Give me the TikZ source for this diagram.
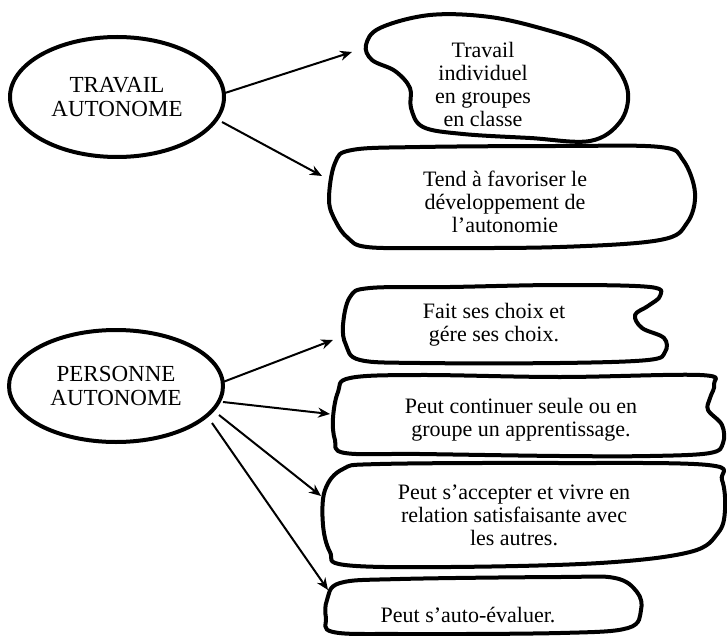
\documentclass[tikz,border=0pt]{standalone}
\usepackage{fontspec}
\setmainfont{Liberation Serif}
\usetikzlibrary{arrows.meta}

\tikzset{
  blob/.style={line width=2pt, line join=round},
  link/.style={->, >={Stealth[length=6pt,width=5pt]}, line width=1pt},
  txt/.style={align=center, font=\fontsize{11}{11.5}\selectfont, inner sep=0pt}
}

\begin{document}
\begin{tikzpicture}[x=0.5pt,y=-0.5pt]
\useasboundingbox (0,0) rectangle (727,636);

\node[txt, font=\fontsize{11.5}{12}\selectfont] (ta) at (117,97) {TRAVAIL\\AUTONOME};
\node[txt, font=\fontsize{11.5}{12}\selectfont] (pa) at (116,386) {PERSONNE\\AUTONOME};

\draw[blob] (ta) ellipse (107 and 60);
\draw[blob] (pa) ellipse (107 and 56);

\node[txt] (t1) at (483,84) {Travail\\individuel\\en groupes\\en classe};
\node[txt] (t2) at (505,202) {Tend à favoriser le\\développement de\\l'autonomie};
\node[txt] (p1) at (494,325) {Fait ses choix et\\gére ses choix.};
\node[txt] (p2) at (521,420) {Peut continuer seule ou en\\groupe un apprentissage.};
\node[txt] (p3) at (514,515) {Peut s'accepter et vivre en\\relation satisfaisante avec\\les autres.};
\node[txt] (p4) at (468,615) {Peut s'auto-évaluer.};

\draw[blob] plot[smooth cycle, tension=0.6] coordinates {(366,45) (380,28) (430,15) (490,17) (547,30) (590,45) (615,65) (628,93) (620,122) (590,141) (530,138) (463,134) (423,127) (411,108) (410,88) (395,71) (372,60)};
\draw[blob] plot[smooth cycle, tension=0.6] coordinates {(335,163) (352,150) (420,147) (560,146) (660,147) (683,160) (695,193) (687,223) (660,240) (560,247) (433,248) (367,247) (348,238) (336,222) (329,200)};
\draw[blob] plot[smooth cycle, tension=0.6] coordinates {(343,325) (350,297) (370,288) (450,287) (560,285) (650,287) (660,296) (648,306) (635,315) (642,328) (664,338) (665,352) (648,360) (560,363) (420,363) (360,360) (346,345)};
\draw[blob] plot[smooth cycle, tension=0.6] coordinates {(338,392) (350,378) (420,375) (560,377) (700,375) (714,384) (710,398) (708,410) (722,425) (723,443) (710,453) (650,456) (560,456) (420,454) (345,453) (335,440) (333,418)};
\draw[blob] plot[smooth cycle, tension=0.6] coordinates {(325,490) (343,469) (380,464) (560,463) (708,465) (722,480) (725,510) (718,533) (690,552) (600,563) (450,567) (345,565) (330,552) (323,525)};
\draw[blob] plot[smooth cycle, tension=0.6] coordinates {(327,600) (340,583) (400,579) (560,577) (615,578) (637,592) (641,610) (628,628) (560,633) (400,634) (333,632) (326,618)};

\coordinate (ta1) at (225,93);
\coordinate (ta2) at (222,122);
\coordinate (t1l) at (352,52);
\coordinate (t2l) at (322,176);

\coordinate (pa1) at (223,382);
\coordinate (pa2) at (223,402);
\coordinate (pa3) at (219,415);
\coordinate (pa4) at (212,423);
\coordinate (p1l) at (333,340);
\coordinate (p2l) at (330,414);
\coordinate (p3l) at (321,496);
\coordinate (p4l) at (328,590);

\draw[link] (ta1) -- (t1l);
\draw[link] (ta2) -- (t2l);

\draw[link] (pa1) -- (p1l);
\draw[link] (pa2) -- (p2l);
\draw[link] (pa3) -- (p3l);
\draw[link] (pa4) -- (p4l);
\end{tikzpicture}
\end{document}
